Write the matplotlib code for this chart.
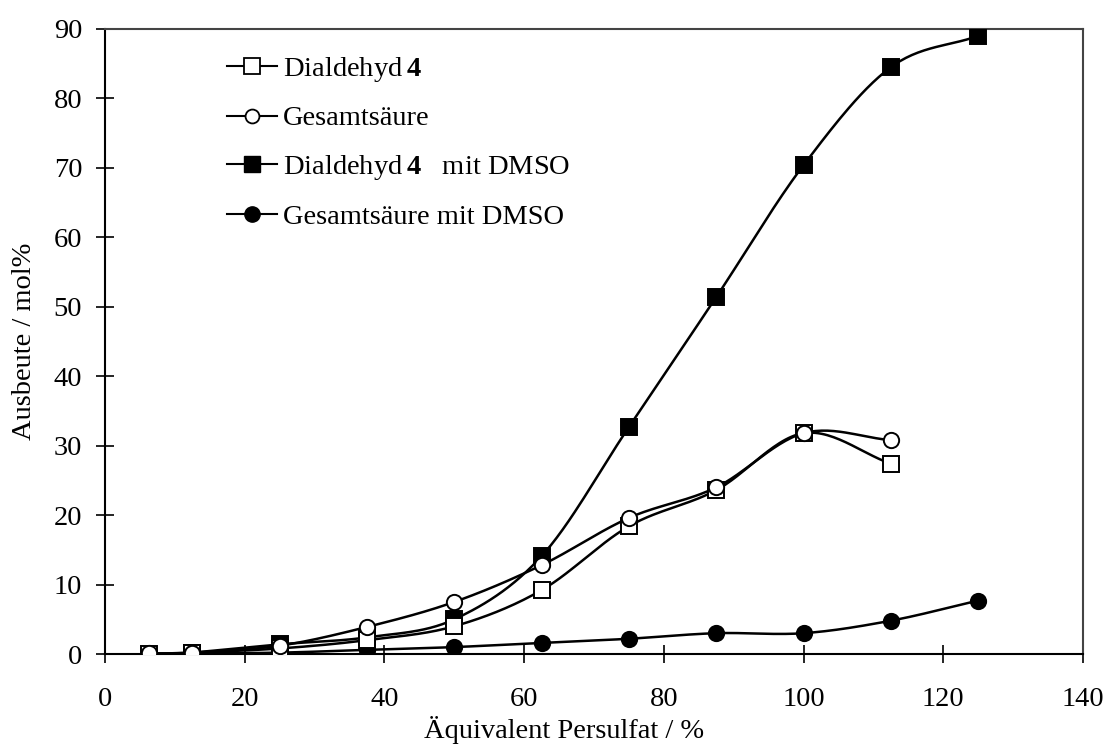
import numpy as np
import matplotlib
matplotlib.use("Agg")
import matplotlib.pyplot as plt
from matplotlib.lines import Line2D

plt.rcParams['font.family'] = ['Liberation Serif', 'DejaVu Serif']
plt.rcParams['mathtext.fontset'] = 'custom'
plt.rcParams['mathtext.rm'] = 'Liberation Serif'
plt.rcParams['mathtext.bf'] = 'Liberation Serif:bold'

# Data
x_plain = [6.25, 12.5, 25, 37.5, 50, 62.5, 75, 87.5, 100, 112.5]
dialdehyd = [0.0, 0.2, 0.8, 2.0, 4.0, 9.2, 18.4, 23.6, 31.8, 27.4]
gesamtsaeure = [0.1, 0.2, 1.2, 3.9, 7.5, 12.8, 19.6, 24.0, 31.8, 30.8]

x_dmso = [12.5, 25, 37.5, 50, 62.5, 75, 87.5, 100, 112.5, 125]
dialdehyd_dmso = [0.2, 1.4, 2.4, 5.0, 14.1, 32.7, 51.4, 70.4, 84.5, 89.0]
gesamtsaeure_dmso = [0.1, 0.2, 0.6, 1.0, 1.6, 2.2, 3.0, 3.0, 4.8, 7.7]

labels = ["Dialdehyd$\\,\\mathbf{4}$", "Gesamtsäure",
          "Dialdehyd$\\,\\mathbf{4}$   mit DMSO", "Gesamtsäure mit DMSO"]


def smooth(x, y, n=30):
    # Catmull-Rom spline through the points (like the spreadsheet's smoothed lines)
    x = np.asarray(x, float)
    y = np.asarray(y, float)
    px = np.concatenate([[2 * x[0] - x[1]], x, [2 * x[-1] - x[-2]]])
    py = np.concatenate([[2 * y[0] - y[1]], y, [2 * y[-1] - y[-2]]])
    xs, ys = [], []
    t = np.linspace(0, 1, n)
    for i in range(1, len(px) - 2):
        for p, out in ((px, xs), (py, ys)):
            p0, p1, p2, p3 = p[i - 1], p[i], p[i + 1], p[i + 2]
            out.append(0.5 * (2 * p1 + (-p0 + p2) * t
                              + (2 * p0 - 5 * p1 + 4 * p2 - p3) * t ** 2
                              + (-p0 + 3 * p1 - 3 * p2 + p3) * t ** 3))
    return np.concatenate(xs), np.concatenate(ys)


fig = plt.figure(figsize=(11.07, 7.49), dpi=100)
ax = fig.add_axes([0.0949, 0.1268, 0.8834, 0.8345])

series = [
    (x_dmso, gesamtsaeure_dmso, 'o', 'black', 11),
    (x_dmso, dialdehyd_dmso, 's', 'black', 12),
    (x_plain, dialdehyd, 's', 'white', 12),
    (x_plain, gesamtsaeure, 'o', 'white', 11),
]
for xs, ys, m, fc, ms in series:
    sx, sy = smooth(xs, ys)
    ax.plot(sx, sy, color='black', lw=1.8, zorder=2)
for xs, ys, m, fc, ms in series:
    ax.plot(xs, ys, ls='none', marker=m, ms=ms, mfc=fc, mec='black',
            mew=1.4, zorder=3)

ax.set_xlim(0, 140)
ax.set_ylim(0, 90)
ax.set_xticks(np.arange(0, 141, 20))
ax.set_yticks(np.arange(0, 91, 10))
ax.tick_params(direction='inout', length=13, width=1.2, labelsize=20.5)
ax.tick_params(axis='x', pad=17)
ax.tick_params(axis='y', pad=10)
for s in ax.spines.values():
    s.set_linewidth(1.5)
ax.spines['top'].set_color('#444444')
ax.spines['right'].set_color('#444444')
ax.set_xlabel("Äquivalent Persulfat / %", fontsize=20.5)
ax.set_ylabel("Ausbeute / mol%", fontsize=20.5)
ax.xaxis.set_label_coords(0.469, -0.099)
ax.yaxis.set_label_coords(-0.070, 0.5)

handles = [
    Line2D([], [], color='black', lw=1.5, marker='s', ms=11, mfc='white', mec='black', mew=1.3),
    Line2D([], [], color='black', lw=1.5, marker='o', ms=10, mfc='white', mec='black', mew=1.3),
    Line2D([], [], color='black', lw=1.5, marker='s', ms=11, mfc='black', mec='black'),
    Line2D([], [], color='black', lw=1.5, marker='o', ms=11, mfc='black', mec='black'),
]
ax.legend(handles, labels, loc='upper left', bbox_to_anchor=(0.099, 1.0),
          frameon=False, fontsize=20.5, handlelength=1.75, handletextpad=0.2,
          labelspacing=0.77)

fig.savefig("out.png", dpi=100)
